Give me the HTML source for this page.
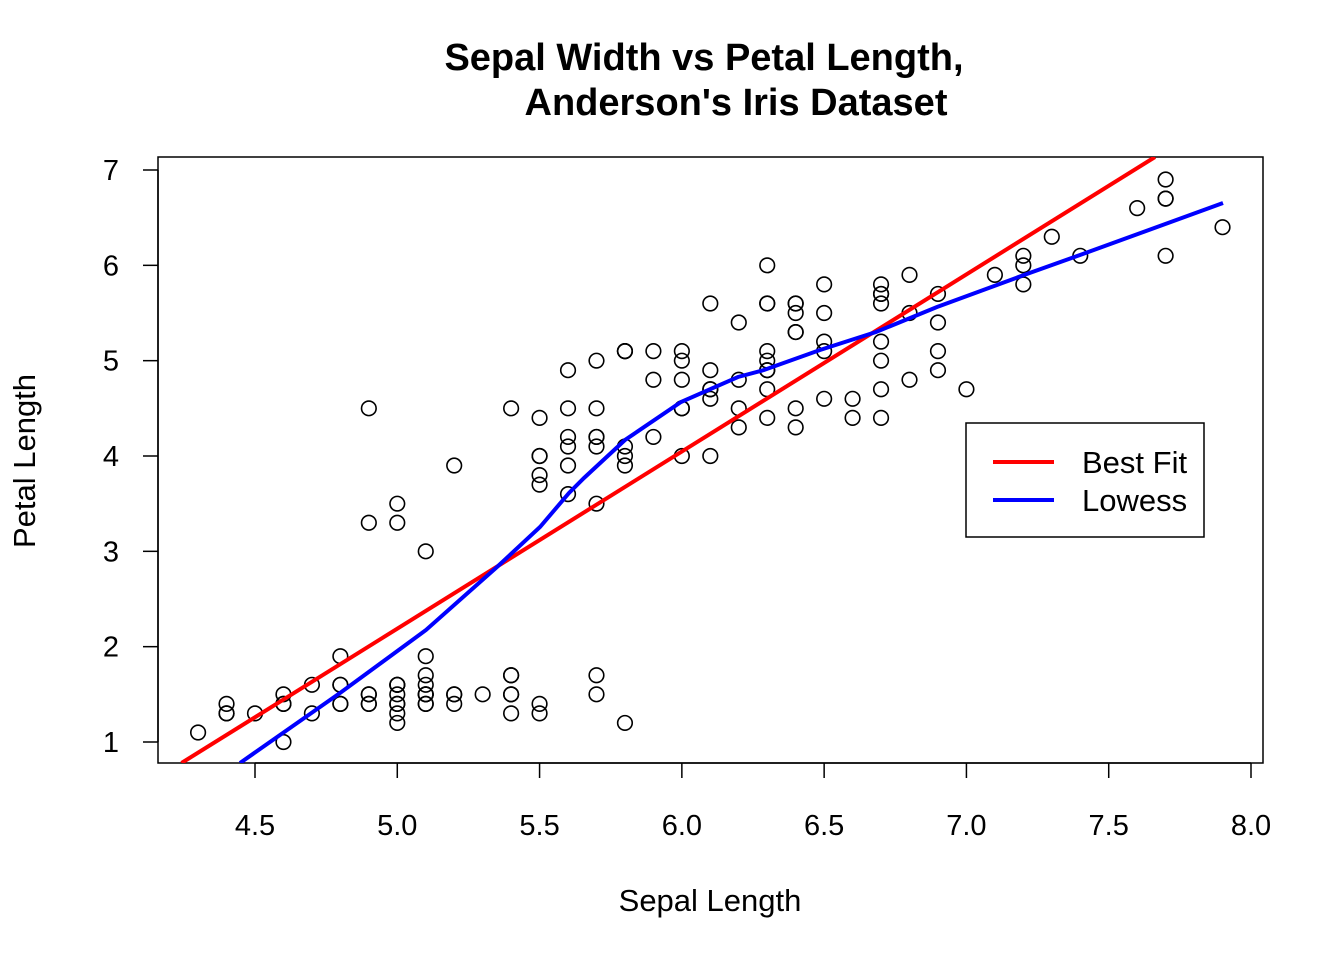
<!DOCTYPE html>
<html><head><meta charset="utf-8"><style>
body{margin:0;background:#fff}
svg text{font-family:"Liberation Sans",Arial,sans-serif}
</style></head><body>
<svg id="s" width="1344" height="960" xmlns="http://www.w3.org/2000/svg">
<rect width="1344" height="960" fill="#fff"/>
<text x="704" y="70" font-size="38" font-weight="bold" text-anchor="middle">Sepal Width vs Petal Length,</text>
<text x="736" y="115" font-size="38" font-weight="bold" text-anchor="middle">Anderson's Iris Dataset</text>
<text x="710" y="911" font-size="31" text-anchor="middle">Sepal Length</text>
<text transform="translate(35,461) rotate(-90)" font-size="31" text-anchor="middle">Petal Length</text>
<rect x="158" y="157" width="1105" height="606" fill="none" stroke="#000" stroke-width="1.5"/>
<g id="ax" stroke="#000" stroke-width="1.5"></g>
<g id="lab" font-size="29"></g>
<g id="pts" fill="none" stroke="#000" stroke-width="1.6"></g>
<defs><clipPath id="c"><rect x="158" y="157" width="1105" height="606"/></clipPath></defs>
<g clip-path="url(#c)">
<line x1="181.5" y1="763" x2="1155" y2="157" stroke="#ff0000" stroke-width="4"/>
<polyline fill="none" stroke="#0000ff" stroke-width="4" points="240,763 340,693 426,630 497,567 540,527 569,493 584,478 625,440 681,402 738,377 764,370 820,350 876,332 937,307 1024,275 1080,255 1223,203"/>
</g>
<rect x="966" y="423" width="238" height="114" fill="#fff" stroke="#000" stroke-width="1.5"/>
<line x1="993" y1="462" x2="1054" y2="462" stroke="#ff0000" stroke-width="4"/>
<line x1="993" y1="500" x2="1054" y2="500" stroke="#0000ff" stroke-width="4"/>
<text x="1082" y="473" font-size="31">Best Fit</text>
<text x="1082" y="511" font-size="31">Lowess</text>
</svg>
<script>
var SL=[5.1,4.9,4.7,4.6,5.0,5.4,4.6,5.0,4.4,4.9,5.4,4.8,4.8,4.3,5.8,5.7,5.4,5.1,5.7,5.1,5.4,5.1,4.6,5.1,4.8,5.0,5.0,5.2,5.2,4.7,4.8,5.4,5.2,5.5,4.9,5.0,5.5,4.9,4.4,5.1,5.0,4.5,4.4,5.0,5.1,4.8,5.1,4.6,5.3,5.0,
7.0,6.4,6.9,5.5,6.5,5.7,6.3,4.9,6.6,5.2,5.0,5.9,6.0,6.1,5.6,6.7,5.6,5.8,6.2,5.6,5.9,6.1,6.3,6.1,6.4,6.6,6.8,6.7,6.0,5.7,5.5,5.5,5.8,6.0,5.4,6.0,6.7,6.3,5.6,5.5,5.5,6.1,5.8,5.0,5.6,5.7,5.7,6.2,5.1,5.7,
6.3,5.8,7.1,6.3,6.5,7.6,4.9,7.3,6.7,7.2,6.5,6.4,6.8,5.7,5.8,6.4,6.5,7.7,7.7,6.0,6.9,5.6,7.7,6.3,6.7,7.2,6.2,6.1,6.4,7.2,7.4,7.9,6.4,6.3,6.1,7.7,6.3,6.4,6.0,6.9,6.7,6.9,5.8,6.8,6.7,6.7,6.3,6.5,6.2,5.9];
var PL=[1.4,1.4,1.3,1.5,1.4,1.7,1.4,1.5,1.4,1.5,1.5,1.6,1.4,1.1,1.2,1.5,1.3,1.4,1.7,1.5,1.7,1.5,1.0,1.7,1.9,1.6,1.6,1.5,1.4,1.6,1.6,1.5,1.5,1.4,1.5,1.2,1.3,1.4,1.3,1.5,1.3,1.3,1.3,1.6,1.9,1.4,1.6,1.4,1.5,1.4,
4.7,4.5,4.9,4.0,4.6,4.5,4.7,3.3,4.6,3.9,3.5,4.2,4.0,4.7,3.6,4.4,4.5,4.1,4.5,3.9,4.8,4.0,4.9,4.7,4.3,4.4,4.8,5.0,4.5,3.5,3.8,3.7,3.9,5.1,4.5,4.5,4.7,4.4,4.1,4.0,4.4,4.6,4.0,3.3,4.2,4.2,4.2,4.3,3.0,4.1,
6.0,5.1,5.9,5.6,5.8,6.6,4.5,6.3,5.8,6.1,5.1,5.3,5.5,5.0,5.1,5.3,5.5,6.7,6.9,5.0,5.7,4.9,6.7,4.9,5.7,6.0,4.8,4.9,5.6,5.8,6.1,6.4,5.6,5.1,5.6,6.1,5.6,5.5,4.8,5.4,5.6,5.1,5.1,5.9,5.7,5.2,5.0,5.2,5.4,5.1];
function X(v){return 255+(v-4.5)*284.571}
function Y(v){return 742-(v-1)*95.333}
var NS="http://www.w3.org/2000/svg";
function el(p,t,a,txt){var e=document.createElementNS(NS,t);for(var k in a)e.setAttribute(k,a[k]);if(txt)e.textContent=txt;document.getElementById(p).appendChild(e);}
for(var i=0;i<150;i++)el("pts","circle",{cx:X(SL[i]),cy:Y(PL[i]),r:7.3});
var xs=["4.5","5.0","5.5","6.0","6.5","7.0","7.5","8.0"];
el("ax","line",{x1:X(4.5),y1:763,x2:X(8),y2:763});
xs.forEach(function(s){var x=X(+s);el("ax","line",{x1:x,y1:763,x2:x,y2:778});el("lab","text",{x:x,y:835,"text-anchor":"middle"},s);});
el("ax","line",{x1:158,y1:Y(1),x2:158,y2:Y(7)});
for(var v=1;v<=7;v++){var y=Y(v);el("ax","line",{x1:143,y1:y,x2:158,y2:y});el("lab","text",{x:119,y:y+10,"text-anchor":"end"},""+v);}
</script>
</body></html>
